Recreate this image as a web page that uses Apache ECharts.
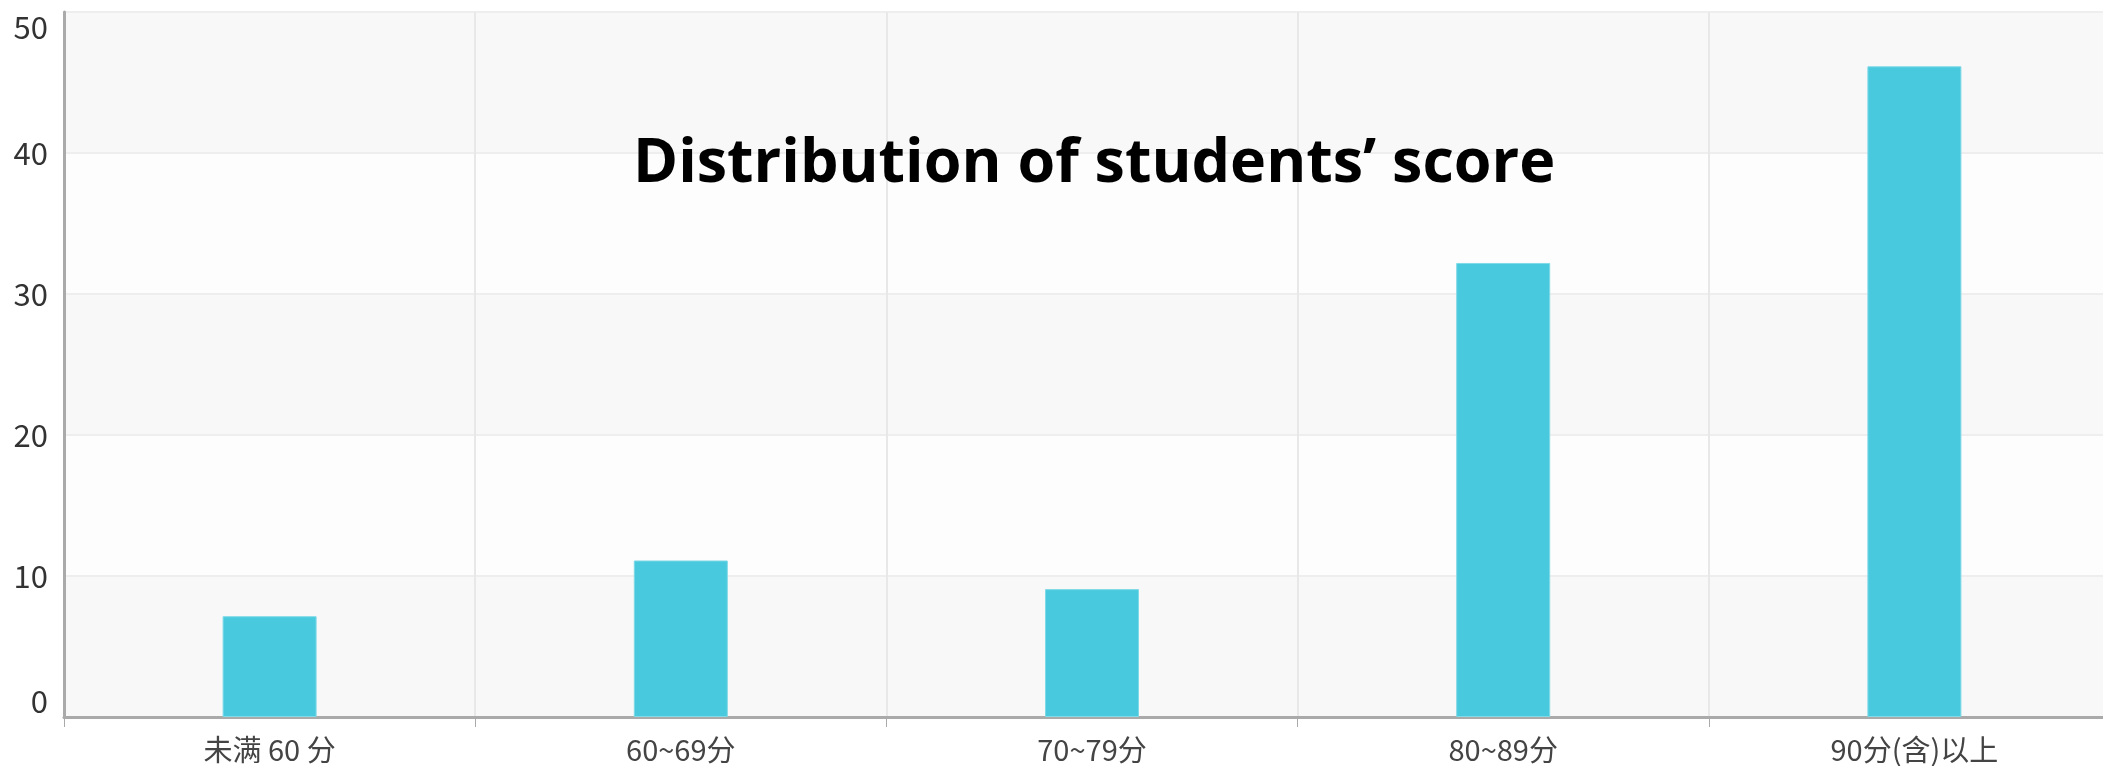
<!DOCTYPE html>
<html>
<head>
<meta charset="utf-8">
<title>Distribution of students' score</title>
<script src="https://cdn.jsdelivr.net/npm/echarts@6/dist/echarts.min.js"></script>
<style>
  html, body { margin: 0; padding: 0; background: #fff; overflow: hidden; }
  /* plot runs past the right edge of the window, as in the original screenshot */
  #chart { width: 2120px; height: 766px; }
</style>
</head>
<body>
<div id="chart"></div>
<script>
const categories = ['未满 60 分', '60~69分', '70~79分', '80~89分', '90分(含)以上']
const counts = [7.15, 11.1, 9.07, 32.2, 46.15]
const yTicks = { min: 0, max: 50, interval: 10 }
const titleText = 'Distribution of students’ score'

const chart = echarts.init(document.getElementById('chart'))

const option = {
  animation: false,
  backgroundColor: '#fff',
  title: {
    text: titleText,
    left: 628,
    top: 129,
    textStyle: {
      fontFamily: 'Open Sans',
      fontWeight: 'bold',
      fontSize: 61,
      color: '#000'
    }
  },
  grid: {
    left: 64,
    right: 0,
    top: 12,
    bottom: 49
  },
  xAxis: {
    type: 'category',
    data: categories,
    axisLine: { lineStyle: { color: '#aaa', width: 3 } },
    axisTick: { show: true, length: 10, lineStyle: { color: '#aaa', width: 1 } },
    axisLabel: {
      margin: 18,
      fontFamily: 'Noto Sans CJK SC',
      fontSize: 29,
      color: '#444'
    },
    splitLine: { show: true, lineStyle: { color: '#e8e8e8', width: 2 } }
  },
  yAxis: {
    type: 'value',
    min: yTicks.min,
    max: yTicks.max,
    interval: yTicks.interval,
    axisLine: { show: true, lineStyle: { color: '#aaa', width: 3 } },
    axisTick: { show: false },
    axisLabel: {
      margin: 16,
      fontFamily: 'Noto Sans CJK SC',
      fontSize: 31,
      color: '#333',
      // end labels pulled inside the plot like the original
      verticalAlignMinLabel: 'bottom',
      verticalAlignMaxLabel: 'top'
    },
    splitLine: { lineStyle: { color: '#eeeeee', width: 2 } },
    splitArea: {
      show: true,
      areaStyle: { color: ['#f8f8f8', '#fdfdfd'] }
    }
  },
  series: [
    {
      type: 'bar',
      data: counts,
      barWidth: 94,
      itemStyle: {
        color: '#49c9dd',
        borderColor: '#7fd9e7',
        borderWidth: 1
      }
    }
  ]
}

chart.setOption(option)
</script>
</body>
</html>
